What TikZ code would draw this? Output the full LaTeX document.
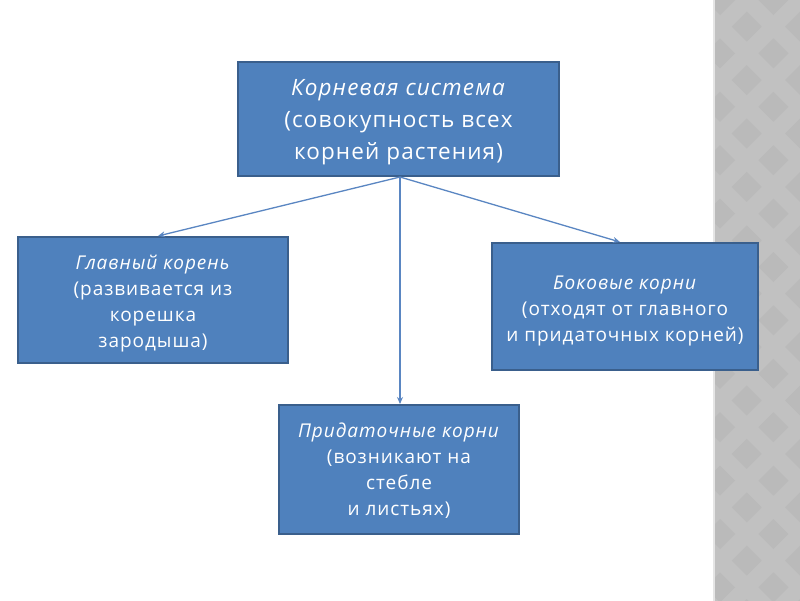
\documentclass[tikz,border=0pt]{standalone}
\usepackage{fontspec}
\setmainfont{Open Sans}[LetterSpace=5]
\usetikzlibrary{arrows.meta}
\definecolor{boxfill}{HTML}{4F81BD}
\definecolor{boxline}{HTML}{3A5F8C}
\definecolor{arrowc}{HTML}{5A86C2}
\definecolor{stripA}{HTML}{C1C1C1}
\definecolor{stripB}{HTML}{BABABA}
\tikzset{
  box/.style={draw=boxline, line width=2pt, fill=boxfill, inner sep=0pt},
  boxtext/.style={text=white, align=center, inner sep=0pt, font=\fontsize{19}{26}\selectfont},
  conn/.style={draw=arrowc, line width=1.3pt, -{Stealth[length=7pt,width=6pt]}}
}
\begin{document}
\begin{tikzpicture}[x=1pt,y=-1pt]
\useasboundingbox (0,0) rectangle (800,600);
\fill[white] (0,0) rectangle (800,600);
% gray strip
\begin{scope}
\clip (713,-5) rectangle (805,605);
\fill[stripA] (713,-5) rectangle (805,605);
\foreach \i in {0,...,24} {
  \foreach \j in {0,...,2} {
    \fill[stripB] ({720+\j*53.4+26.7*mod(\i,2)},{\i*26.7-15}) -- ++(15,15) -- ++(-15,15) -- ++(-15,-15) -- cycle;
  }
}
\draw[white!80!gray, line width=1.5pt] (714,-5) -- (714,605);
\end{scope}
\node[box, minimum width=321pt, minimum height=114pt] (top) at (398.5,119) {};
\node[box, minimum width=270pt, minimum height=126pt] (left) at (153,300) {};
\node[box, minimum width=266pt, minimum height=127pt] (right) at (625,306.5) {};
\node[box, minimum width=240pt, minimum height=129pt] (bottom) at (399,469.5) {};
\node[boxtext, font=\fontsize{22.5}{32}\selectfont] (toptext) at ([yshift=-3.5pt]top.center)
  {\textit{Корневая система}\\(совокупность всех\\корней растения)};
\node[boxtext] (lefttext) at ([yshift=-4pt]left.center)
  {\textit{Главный корень}\\(развивается из\\корешка\\зародыша)};
\node[boxtext] (righttext) at ([yshift=-4.5pt]right.center)
  {\textit{Боковые корни}\\(отходят от главного\\и придаточных корней)};
\node[boxtext] (bottomtext) at ([yshift=-1pt]bottom.center)
  {\textit{Придаточные корни}\\(возникают на\\стебле\\и листьях)};
\coordinate (src) at ([xshift=1.5pt]top.south);
\draw[conn] (src) -- ([xshift=5pt]left.north);
\draw[conn] (src) -- ([xshift=-5pt]right.north);
\draw[conn] (src) -- (bottom.north -| src);
\end{tikzpicture}
\end{document}
